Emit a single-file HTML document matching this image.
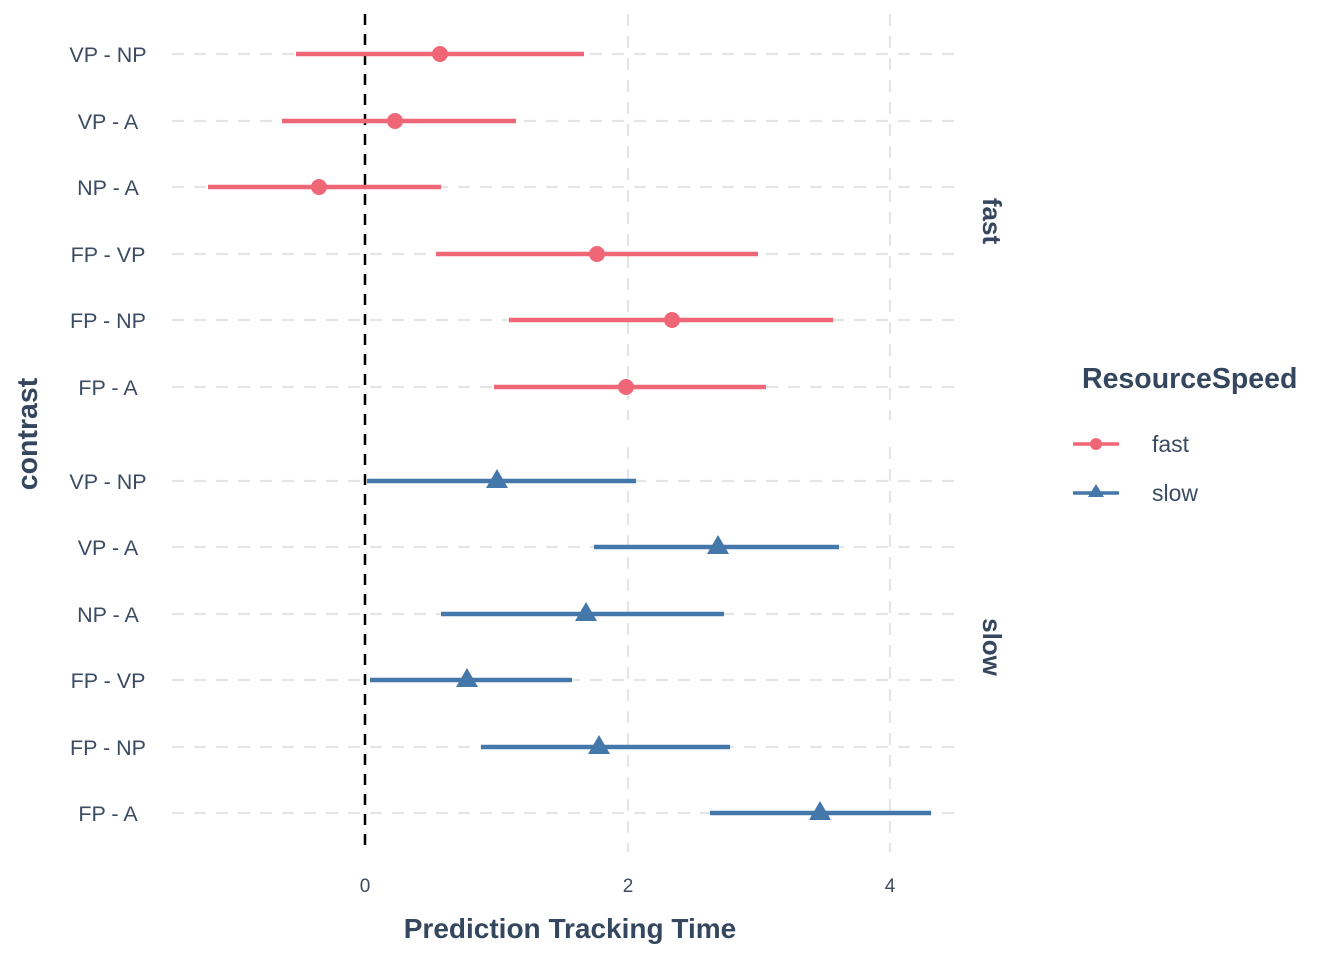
<!DOCTYPE html>
<html><head><style>body{margin:0;background:#fff}svg{display:block}text{font-family:"Liberation Sans",Arial,sans-serif}</style></head><body>
<svg width="1344" height="960" viewBox="0 0 1344 960" xmlns="http://www.w3.org/2000/svg">
<g stroke="#e5e5e5" stroke-width="2.2" stroke-dasharray="12,10" fill="none">
<line x1="628" y1="14" x2="628" y2="420"/><line x1="890" y1="14" x2="890" y2="420"/>
<line x1="628" y1="447" x2="628" y2="852"/><line x1="890" y1="447" x2="890" y2="852"/>
<line x1="172" y1="54" x2="960" y2="54"/><line x1="172" y1="121" x2="960" y2="121"/><line x1="172" y1="187" x2="960" y2="187"/><line x1="172" y1="254" x2="960" y2="254"/><line x1="172" y1="320" x2="960" y2="320"/><line x1="172" y1="387" x2="960" y2="387"/>
<line x1="172" y1="481" x2="960" y2="481"/><line x1="172" y1="547" x2="960" y2="547"/><line x1="172" y1="614" x2="960" y2="614"/><line x1="172" y1="680" x2="960" y2="680"/><line x1="172" y1="747" x2="960" y2="747"/><line x1="172" y1="813" x2="960" y2="813"/>
</g>
<line x1="365" y1="14" x2="365" y2="852" stroke="#000" stroke-width="2.5" stroke-dasharray="11,9"/>
<g stroke="#ef6677" stroke-width="4.5">
<line x1="296" y1="54" x2="584" y2="54"/><line x1="282" y1="121" x2="516" y2="121"/><line x1="208" y1="187" x2="441" y2="187"/><line x1="436" y1="254" x2="758" y2="254"/><line x1="509" y1="320" x2="833" y2="320"/><line x1="494" y1="387" x2="766" y2="387"/>
</g>
<g fill="#ef6677">
<circle cx="440" cy="54" r="8"/><circle cx="395" cy="121" r="8"/><circle cx="319" cy="187" r="8"/><circle cx="597" cy="254" r="8"/><circle cx="672" cy="320" r="8"/><circle cx="626" cy="387" r="8"/>
</g>
<g stroke="#4477aa" stroke-width="4.5">
<line x1="367" y1="481" x2="636" y2="481"/><line x1="594" y1="547" x2="839" y2="547"/><line x1="441" y1="614" x2="724" y2="614"/><line x1="370" y1="680" x2="572" y2="680"/><line x1="481" y1="747" x2="730" y2="747"/><line x1="710" y1="813" x2="931" y2="813"/>
</g>
<g fill="#4477aa">
<polygon points="497,469 508,488 486,488"/><polygon points="718,535 729,554 707,554"/><polygon points="586,602 597,621 575,621"/><polygon points="467,668 478,687 456,687"/><polygon points="599,735 610,754 588,754"/><polygon points="820,801 831,820 809,820"/>
</g>
<g fill="#3b4b62" font-size="21.5" text-anchor="middle">
<text x="108" y="62">VP - NP</text><text x="108" y="129">VP - A</text><text x="108" y="195">NP - A</text><text x="108" y="262">FP - VP</text><text x="108" y="328">FP - NP</text><text x="108" y="395">FP - A</text>
<text x="108" y="489">VP - NP</text><text x="108" y="555">VP - A</text><text x="108" y="622">NP - A</text><text x="108" y="688">FP - VP</text><text x="108" y="755">FP - NP</text><text x="108" y="821">FP - A</text>
</g>
<g fill="#3b4b62" font-size="19" text-anchor="middle">
<text x="365" y="892">0</text><text x="628" y="892">2</text><text x="890" y="892">4</text>
</g>
<text x="570" y="938" text-anchor="middle" font-size="28" font-weight="bold" fill="#35475e">Prediction Tracking Time</text>
<text transform="translate(37,434) rotate(-90)" text-anchor="middle" font-size="28.5" font-weight="bold" fill="#35475e">contrast</text>
<text transform="translate(983,221) rotate(90)" text-anchor="middle" font-size="26" font-weight="bold" fill="#35475e">fast</text>
<text transform="translate(983,647) rotate(90)" text-anchor="middle" font-size="26" font-weight="bold" fill="#35475e">slow</text>
<text x="1082" y="388" font-size="28.5" font-weight="bold" fill="#35475e">ResourceSpeed</text>
<line x1="1073" y1="444" x2="1119" y2="444" stroke="#ef6677" stroke-width="3.5"/><circle cx="1096" cy="444" r="6" fill="#ef6677"/>
<line x1="1073" y1="493" x2="1119" y2="493" stroke="#4477aa" stroke-width="3.5"/><polygon points="1096,484 1104,497 1088,497" fill="#4477aa"/>
<text x="1152" y="452" font-size="23" fill="#3b4b62">fast</text>
<text x="1152" y="501" font-size="23" fill="#3b4b62">slow</text>
</svg>
</body></html>
